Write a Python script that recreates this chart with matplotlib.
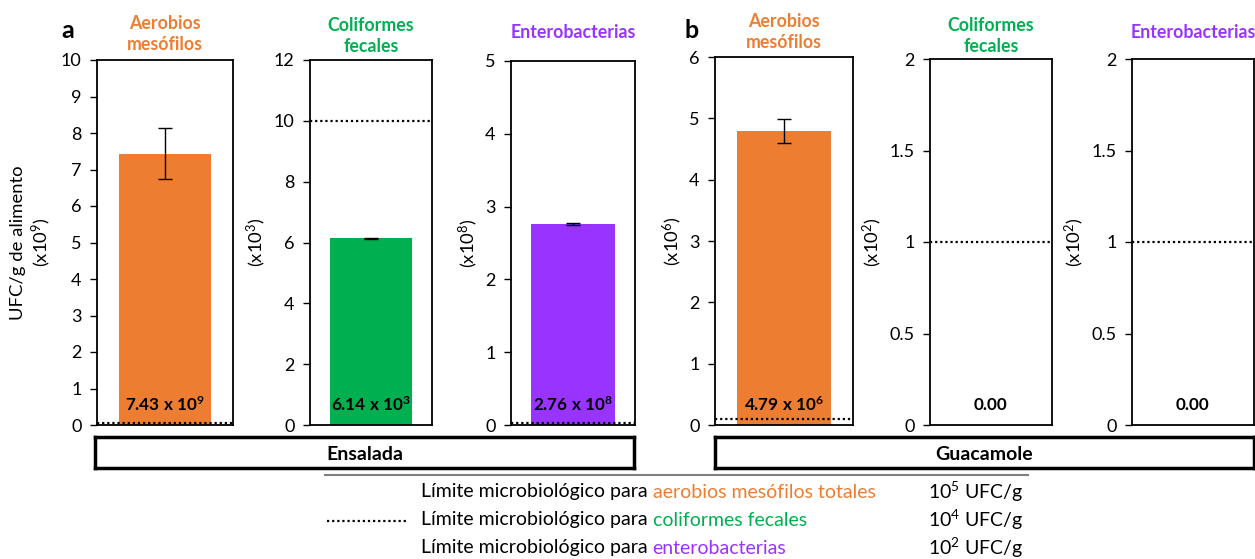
import matplotlib.pyplot as plt
import numpy as np

plt.rcParams['font.family'] = ['Lato', 'DejaVu Sans']
plt.rcParams['mathtext.fontset'] = 'custom'
plt.rcParams['mathtext.rm'] = 'Lato'
plt.rcParams['mathtext.bf'] = 'Lato:bold'
plt.rcParams['mathtext.it'] = 'Lato:italic'

# data (values in the units of each panel)
groups = ['Ensalada', 'Guacamole']
microbes = ['Aerobios\nmesófilos', 'Coliformes\nfecales', 'Enterobacterias']
means = [7.43, 6.14, 2.76, 4.79, 0.0, 0.0]
errors = [0.70, 0.02, 0.01, 0.20, 0.0, 0.0]
limits = [0.05, 10, 0.03, 0.1, 1, 1]
value_labels = [r'7.43 x 10$^\mathbf{9}$', r'6.14 x 10$^\mathbf{3}$', r'2.76 x 10$^\mathbf{8}$',
                r'4.79 x 10$^\mathbf{6}$', '0.00', '0.00']
ymax = [10, 12, 5, 6, 2, 2]
ystep = [1, 2, 1, 1, 0.5, 0.5]
exponents = [9, 3, 8, 6, 2, 2]
legend_names = ['aerobios mesófilos totales', 'coliformes fecales', 'enterobacterias']
legend_limits = [r'10$^5$ UFC/g', r'10$^4$ UFC/g', r'10$^2$ UFC/g']

colors = ['#ED7D31', '#00B050', '#9933FF']

W, H = 1255, 559
fig = plt.figure(figsize=(W / 100, H / 100), dpi=100)


def rect(x0, x1, y0, y1):
    return [x0 / W, 1 - y1 / H, (x1 - x0) / W, (y1 - y0) / H]


# panel boxes in pixels: left, right, top, bottom
boxes = [(97, 233, 60, 425), (310, 432, 60, 425), (511, 635, 61, 425),
         (715, 853, 57, 425), (930, 1052, 59, 425), (1132, 1254, 59, 425)]
title_y = [34, 36, 33, 32, 36, 33]

for i in range(6):
    x0, x1, y0, y1 = boxes[i]
    ax = fig.add_axes(rect(x0, x1, y0, y1))
    c = colors[i % 3]
    if means[i] > 0:
        ax.bar([0], [means[i]], width=0.68, color=c, zorder=2)
        ax.errorbar([0], [means[i]], yerr=[errors[i]], color='black', lw=1,
                    capsize=5, capthick=1, zorder=3)
    ax.axhline(limits[i], color='black', ls=(0, (1, 1.3)), lw=1.6, zorder=4)
    ax.set_xlim(-0.5, 0.5)
    ax.set_ylim(0, ymax[i])
    ticks = np.arange(0, ymax[i] + ystep[i] / 2, ystep[i])
    ax.set_yticks(ticks)
    ax.set_yticklabels(['%g' % t for t in ticks])
    ax.set_xticks([])
    ax.tick_params(axis='y', labelsize=13, length=5, width=1, direction='out', pad=6)
    for s in ax.spines.values():
        s.set_linewidth(1.3)
    ax.text(0.5, 0.055, value_labels[i], transform=ax.transAxes, ha='center', va='center',
            fontsize=12.3, fontweight='bold')
    if i == 0:
        ax.set_ylabel('UFC/g de alimento\n(x10$^{%d}$)' % exponents[i], fontsize=13.3, labelpad=6)
    else:
        ax.set_ylabel('(x10$^{%d}$)' % exponents[i], fontsize=13.3, labelpad=4)
    fig.text((x0 + x1) / 2 / W, 1 - title_y[i] / H, microbes[i % 3], color=c,
             fontsize=12.8, fontweight='bold', ha='center', va='center', linespacing=1.3)

# panel letters
fig.text(68 / W, 1 - 30 / H, 'a', fontsize=18, fontweight='bold', ha='center', va='center')
fig.text(692 / W, 1 - 30 / H, 'b', fontsize=18, fontweight='bold', ha='center', va='center')

# group boxes
for g, (x0, x1) in zip(groups, [(95, 634), (715, 1254)]):
    bx = fig.add_axes(rect(x0, x1, 437, 468))
    bx.set_xticks([])
    bx.set_yticks([])
    for s in bx.spines.values():
        s.set_linewidth(2.5)
    bx.text(0.5, 0.45, g, transform=bx.transAxes, ha='center', va='center',
            fontsize=14, fontweight='bold')

# legend area
lg = fig.add_axes([0, 0, 1, 1], facecolor='none')
lg.set_xlim(0, W)
lg.set_ylim(H, 0)
lg.axis('off')
lg.plot([325, 1028], [475, 475], color='#7F7F7F', lw=1.5)
lg.plot([327, 406], [521, 521], color='black', ls=(0, (1, 1.3)), lw=1.6)
row_y = [492, 520, 548]
for k in range(3):
    t = lg.text(421, row_y[k], 'Límite microbiológico para ', fontsize=14, va='center', ha='left')
    lg.annotate(legend_names[k], xy=(1, 0.5), xycoords=t, va='center', ha='left',
                fontsize=14, color=colors[k])
    lg.text(928, row_y[k], legend_limits[k], fontsize=14, va='center', ha='left')

fig.savefig('out.png', dpi=100)
